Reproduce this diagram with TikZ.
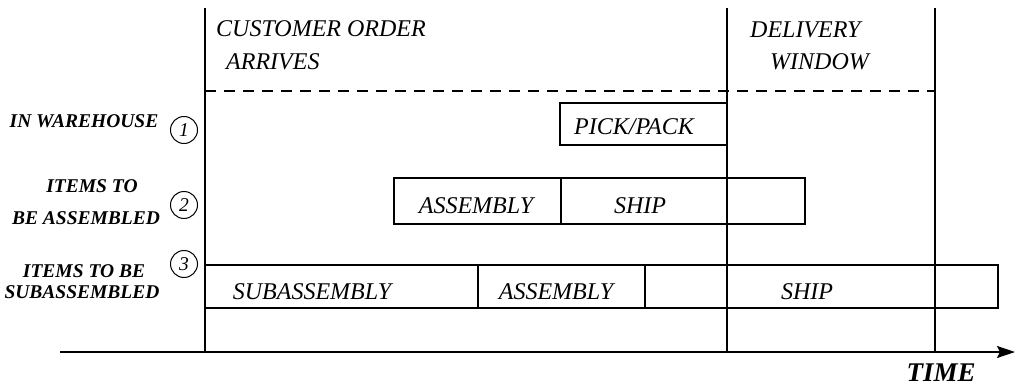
\documentclass[tikz,border=0pt]{standalone}
\usepackage{fontspec}
\setmainfont{Liberation Serif}
\usetikzlibrary{arrows.meta}
\begin{document}
\begin{tikzpicture}[x=1pt,y=-1pt,
  lbl/.style={font=\fontsize{24}{26}\selectfont\itshape, inner sep=0pt},
  side/.style={font=\fontsize{19.5}{22}\selectfont\bfseries\itshape, inner sep=0pt},
  num/.style={circle, draw, line width=1pt, minimum size=27pt, inner sep=0pt, font=\fontsize{19.5}{20}\selectfont\itshape},
  vline/.style={line width=2.2pt},
  boxline/.style={line width=1.3pt},
  dashline/.style={line width=1.2pt, dash pattern=on 11pt off 8pt}]
\useasboundingbox (0,0) rectangle (1016,385);

% vertical time markers
\coordinate (l1) at (205,8);  \coordinate (l1b) at (205,352);
\coordinate (l2) at (727,8);  \coordinate (l2b) at (727,352);
\coordinate (l3) at (935,8);  \coordinate (l3b) at (935,352);
\draw[vline] (l1) -- (l1b);
\draw[vline] (l2) -- (l2b);
\draw[vline] (l3) -- (l3b);

% dashed line
\coordinate (d1) at (205,91); \coordinate (d2) at (935,91);
\draw[dashline] (d1) -- (d2);

% header texts
\node[lbl, anchor=base west] (cust) at (216,37) {CUSTOMER ORDER};
\node[lbl, anchor=base west] (arr) at (226,70) {ARRIVES};
\node[lbl, anchor=base west] (deliv) at (750,38) {DELIVERY};
\node[lbl, anchor=base west] (wind) at (770,70) {WINDOW};

% row 1
\draw[boxline] (727,103) -- (560,103) -- (560,145) -- (727,145);
\node[lbl, anchor=base] (pick) at (634,135) {PICK/PACK};

% row 2
\draw[boxline] (394,178) rectangle (805,224);
\draw[boxline] (561,178) -- (561,224);
\node[lbl, anchor=base] (asm2) at (476,213) {ASSEMBLY};
\node[lbl, anchor=base] (ship2) at (640,213) {SHIP};

% row 3
\draw[boxline] (205,265) rectangle (998,308);
\draw[boxline] (478,265) -- (478,308);
\draw[boxline] (645,265) -- (645,308);
\node[lbl, anchor=base] (sub3) at (312,299) {SUBASSEMBLY};
\node[lbl, anchor=base] (asm3) at (556,299) {ASSEMBLY};
\node[lbl, anchor=base] (ship3) at (807,299) {SHIP};

% side labels
\node[side, anchor=base] (s1) at (84,127) {IN WAREHOUSE};
\node[side, anchor=base] (s2a) at (92,192) {ITEMS TO};
\node[side, anchor=base] (s2b) at (86,224) {BE ASSEMBLED};
\node[side, anchor=base] (s3a) at (84,277) {ITEMS TO BE};
\node[side, anchor=base] (s3b) at (82,298) {SUBASSEMBLED};
\node[num] (n1) at (184,130) {1};
\node[num] (n2) at (184,205) {2};
\node[num] (n3) at (184,264) {3};

% time axis
\coordinate (ax0) at (60,352); \coordinate (ax1) at (1015,352);
\draw[line width=2pt, -{Stealth[length=18pt,width=12pt,inset=3pt]}] (ax0) -- (ax1);
\node[font=\fontsize{27}{30}\selectfont\bfseries\itshape, inner sep=0pt, anchor=base] (time) at (941,381) {TIME};
\end{tikzpicture}
\end{document}
